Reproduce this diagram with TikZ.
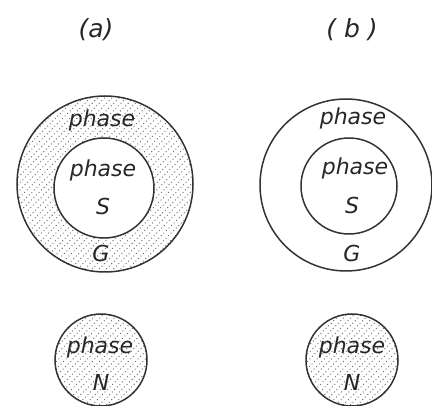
\documentclass[tikz,border=0pt]{standalone}
\usepackage{fontspec}
\setmainfont{DejaVu Sans}
\begin{document}
\begin{tikzpicture}[x=1pt,y=-1pt,
  ring/.style={circle,draw=black!80,line width=1.5pt,inner sep=0pt},
  lbl/.style={font=\fontsize{22}{24}\selectfont\itshape,text=black!85,inner sep=0pt},
  ttl/.style={font=\fontsize{25}{28}\selectfont\itshape,text=black!85,inner sep=0pt},
  hatch/.style={black!60,line width=1.3pt,line cap=round,dash pattern=on 0pt off 3.6pt}]
\useasboundingbox (0,0) rectangle (432,406);
% hatching
\begin{scope}[even odd rule]
  \clip (105,184) circle[radius=88pt] (104,188) circle[radius=50pt];
  \foreach \k in {-30,...,30}{\draw[hatch] (105+\k*7.2-100,184+100) -- (105+\k*7.2+100,184-100);}
\end{scope}
\begin{scope}
  \clip (101,360) circle[radius=46pt];
  \foreach \k in {-18,...,18}{\draw[hatch] (101+\k*7.2-60,360+60) -- (101+\k*7.2+60,360-60);}
\end{scope}
\begin{scope}
  \clip (352,360) circle[radius=46pt];
  \foreach \k in {-18,...,18}{\draw[hatch] (352+\k*7.2-60,360+60) -- (352+\k*7.2+60,360-60);}
\end{scope}
% circles
\node[ring,minimum size=176pt] (aout) at (105,184) {};
\node[ring,minimum size=100pt] (ain) at (104,188) {};
\node[ring,minimum size=172pt] (bout) at (346,185) {};
\node[ring,minimum size=96pt] (bin) at (349,186) {};
\node[ring,minimum size=92pt] (an) at (101,360) {};
\node[ring,minimum size=92pt] (bn) at (352,360) {};
% titles
\node[ttl] (ta) at (96,30) {(a)};
\node[ttl] (tb) at (352,30) {( b )};
% labels (a)
\node[lbl] (ag1) at (102,120) {phase};
\node[lbl] (as1) at (103,170) {phase};
\node[lbl] (as2) at (103,206) {S};
\node[lbl] (ag2) at (101,253) {G};
% labels (b)
\node[lbl] (bg1) at (353,118) {phase};
\node[lbl] (bs1) at (355,168) {phase};
\node[lbl] (bs2) at (352,205) {S};
\node[lbl] (bg2) at (352,253) {G};
% N
\node[lbl] (an1) at (100,347) {phase};
\node[lbl] (an2) at (101,382) {N};
\node[lbl] (bn1) at (352,347) {phase};
\node[lbl] (bn2) at (352,382) {N};
\end{tikzpicture}
\end{document}
